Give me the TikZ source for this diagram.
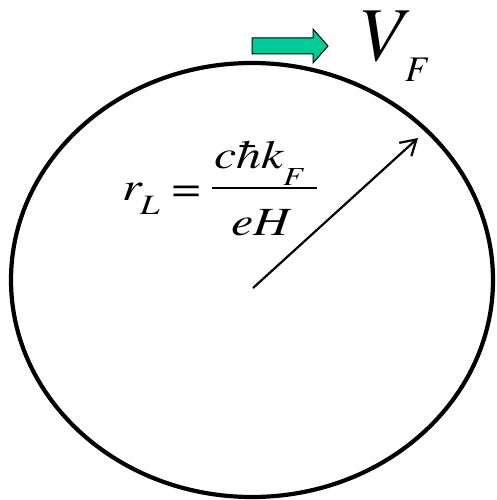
\documentclass[tikz,border=0pt]{standalone}
\usepackage[T1]{fontenc}
\usepackage{mathptmx}
\usetikzlibrary{arrows.meta}
\definecolor{arrowgreen}{RGB}{0,204,153}
\tikzset{
  txt/.style={anchor=base west, inner sep=0pt, outer sep=0pt},
}
\newcommand{\tfont}[1]{\fontsize{#1}{#1}\selectfont}
\begin{document}
\begin{tikzpicture}[x=1pt,y=-1pt]
\useasboundingbox (0,0) rectangle (496,500);
% orbit
\draw[line width=4.2pt] (252,280) ellipse [x radius=241, y radius=217];
% velocity arrow (block)
\draw[fill=arrowgreen, draw=black, line width=1pt, line join=miter]
  (252,38) -- (313,38) -- (313,29) -- (328,46) -- (313,63) -- (313,54) -- (252,54) -- cycle;
% V_F label
\node[txt, font=\tfont{76}] (V) at (361,61) {$V$};
\node[txt, font=\tfont{36}] (VF) at (405,82) {$F$};
% radius arrow
\coordinate (c) at (253,288);
\coordinate (t) at (418,138);
\draw[line width=2.2pt, -{Straight Barb[length=15pt,width=18pt]}] (c) -- (t);
% formula
\begin{scope}[xscale=1.25, transform shape]
  \node[txt, font=\tfont{40}] (r) at (122/1.25,200) {$r$};
  \node[txt, font=\tfont{28}] (rL) at (140/1.25,214) {$L$};
  \node[txt, font=\tfont{40}] (eq) at (172/1.25,201) {=};
  \node[txt, font=\tfont{40}] (num) at (214/1.25,168) {$c\hbar k$};
  \node[txt, font=\tfont{26}] (numF) at (283/1.25,185) {$F$};
  \node[txt, font=\tfont{40}] (den) at (231/1.25,235) {$eH$};
  \coordinate (b1) at (212/1.25,188);
  \coordinate (b2) at (317/1.25,188);
  \draw[line width=1.8pt] (b1) -- (b2);
\end{scope}
\end{tikzpicture}
\end{document}
